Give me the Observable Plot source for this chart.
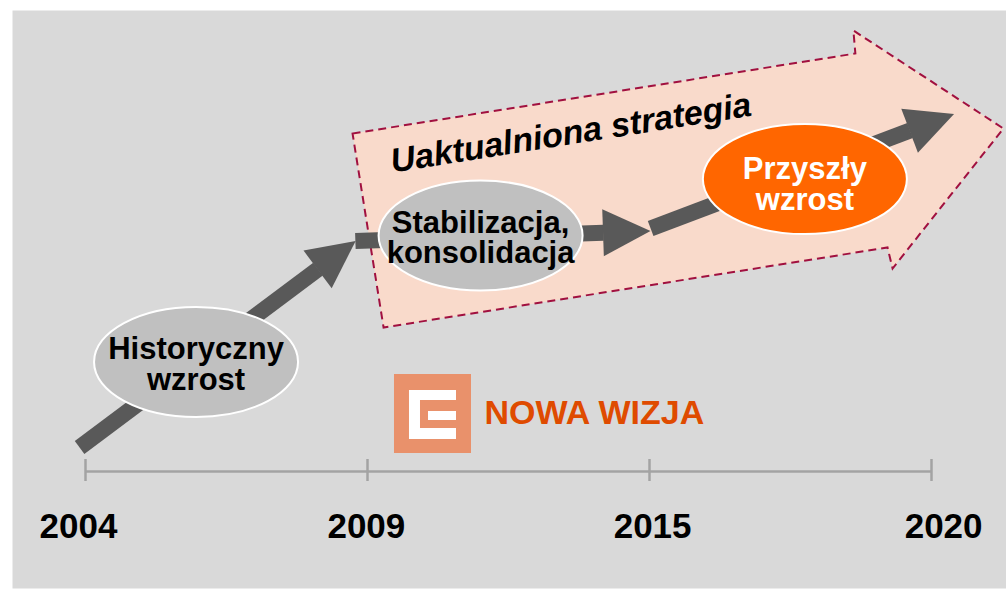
<!DOCTYPE html>
<html>
<head>
<meta charset="utf-8">
<script src="https://cdn.jsdelivr.net/npm/d3@7"></script>
<script src="https://cdn.jsdelivr.net/npm/@observablehq/plot@0.6"></script>
<style>
  html, body { margin: 0; padding: 0; background: #ffffff; }
  svg { display: block; }
</style>
</head>
<body>
<script>
// ---- Data (x: timeline step index 0..3, y: growth units) ----
const years = ["2004", "2009", "2015", "2020"];
const milestones = [0, 1, 2, 3];
const yearLabelX = [-0.025, 0.996, 2.011, 3.043];

const stageLabels = ["Historyczny\nwzrost", "Stabilizacja,\nkonsolidacja", "Przyszły\nwzrost"];
const stageX = [0.392, 1.401, 2.551];
const stageY = [27.4, 59.0, 73.1];
const stageKind = ["past", "past", "future"];

// dark growth arrows: shaft start (x1,y1) -> head base (x2,y2)
const arrowX1 = [-0.021, 0.957, 2.004];
const arrowY1 = [6.0, 57.6, 60.75];
const arrowX2 = [0.8245, 1.837, 2.924];
const arrowY2 = [50.6, 59.7, 85.25];

// "Uaktualniona strategia" outlined block arrow
const strategyX = [0.947, 2.730, 2.723, 3.255, 2.862, 2.844, 1.057];
const strategyY = [84.5, 104.5, 110.25, 85.75, 50.75, 56.0, 36.0];
const strategyLabel = "Uaktualniona strategia";
const strategyLabelPos = {x: 1.089, y: 74.75};

// brand
const brandLabel = "NOWA WIZJA";
const brandPos = {x: 1.415, y: 12};
const logoBox = {x1: 1.0957, x2: 1.3688, y1: 4.5, y2: 24.25};
const logoPartsX1 = [1.1489, 1.1489, 1.1489, 1.2163];
const logoPartsX2 = [1.3156, 1.1879, 1.3156, 1.3156];
const logoPartsY1 = [17.75, 8.0, 8.0, 12.75];
const logoPartsY2 = [20.25, 20.25, 10.75, 15.0];

// ---- Build tables ----
const stages = stageLabels.map((label, i) => ({label, x: stageX[i], y: stageY[i], kind: stageKind[i]}));
const arrows = arrowX1.map((x1, i) => ({x1, y1: arrowY1[i], x2: arrowX2[i], y2: arrowY2[i]}));
const strategy = strategyX.map((x, i) => ({x, y: strategyY[i]}));
const ticks = milestones.map((m, i) => ({x: m, labelX: yearLabelX[i], year: years[i]}));
const logoParts = logoPartsX1.map((x1, i) => ({x1, x2: logoPartsX2[i], y1: logoPartsY1[i], y2: logoPartsY2[i]}));

// ellipse symbol
function ellipseSymbol(rx, ry) {
  const k = 0.5523;
  return {
    draw(ctx) {
      ctx.moveTo(rx, 0);
      ctx.bezierCurveTo(rx, k * ry, k * rx, ry, 0, ry);
      ctx.bezierCurveTo(-k * rx, ry, -rx, k * ry, -rx, 0);
      ctx.bezierCurveTo(-rx, -k * ry, -k * rx, -ry, 0, -ry);
      ctx.bezierCurveTo(k * rx, -ry, rx, -k * ry, rx, 0);
      ctx.closePath();
    }
  };
}
const ellipse = ellipseSymbol(102, 55);

// filled triangular arrowhead marker
function headMarker(color, context) {
  const doc = (context && context.document) || document;
  const ns = "http://www.w3.org/2000/svg";
  const m = doc.createElementNS(ns, "marker");
  m.setAttribute("viewBox", "-2 -30 60 60");
  m.setAttribute("markerWidth", "60");
  m.setAttribute("markerHeight", "60");
  m.setAttribute("markerUnits", "userSpaceOnUse");
  m.setAttribute("refX", "0");
  m.setAttribute("refY", "0");
  m.setAttribute("orient", "auto");
  m.setAttribute("overflow", "visible");
  const p = doc.createElementNS(ns, "path");
  p.setAttribute("d", "M-0.5,-23.5L47,0L-0.5,23.5Z");
  p.setAttribute("fill", color);
  p.setAttribute("stroke", "none");
  m.appendChild(p);
  return m;
}

const dark = "#595959";

const chart = Plot.plot({
  width: 1006,
  height: 589,
  marginTop: 10,
  marginLeft: 12,
  marginRight: 0,
  marginBottom: 1,
  x: {type: "linear", domain: [0, 3], range: [85, 931], axis: null},
  y: {type: "linear", domain: [0, 100], range: [471, 71], axis: null},
  style: {fontFamily: "'Liberation Sans', Arial, sans-serif", background: "#ffffff", overflow: "visible"},
  marks: [
    Plot.frame({fill: "#d9d9d9", stroke: "none"}),
    // strategy block arrow
    Plot.line(strategy, {
      x: "x", y: "y", curve: "linear-closed",
      fill: "#f9dacb", stroke: "#a1103f", strokeWidth: 2,
      strokeDasharray: "8,5", strokeLinejoin: "miter", strokeLinecap: "butt", strokeMiterlimit: 10
    }),
    // timeline
    Plot.ruleY([0], {x1: milestones[0], x2: milestones[milestones.length - 1], stroke: "#a3a3a3", strokeWidth: 2.5}),
    Plot.ruleX(ticks, {x: "x", y1: -2.5, y2: 3, stroke: "#a3a3a3", strokeWidth: 2.5}),
    Plot.text(ticks, {x: "labelX", y: -13.75, text: "year", fontSize: 35, fontWeight: "bold", fill: "#000000"}),
    // brand logo
    Plot.rect([logoBox], {x1: "x1", x2: "x2", y1: "y1", y2: "y2", fill: "#e9916b"}),
    Plot.rect(logoParts, {x1: "x1", x2: "x2", y1: "y1", y2: "y2", fill: "#ffffff"}),
    Plot.text([brandPos], {x: "x", y: "y", text: () => brandLabel, textAnchor: "start", lineAnchor: "bottom", fontSize: 34, fontWeight: "bold", fill: "#df4b00"}),
    // growth arrows
    Plot.link(arrows, {x1: "x1", y1: "y1", x2: "x2", y2: "y2", stroke: dark, strokeWidth: 16, strokeLinecap: "butt", markerEnd: headMarker}),
    // stage ellipses
    Plot.dot(stages.filter(d => d.kind === "past"), {x: "x", y: "y", r: 10, symbol: ellipse, fill: "#c0c0c0", stroke: "#ffffff", strokeWidth: 2}),
    Plot.dot(stages.filter(d => d.kind === "future"), {x: "x", y: "y", r: 10, symbol: ellipse, fill: "#ff6600", stroke: "#ffffff", strokeWidth: 2}),
    Plot.text(stages.filter(d => d.kind === "past"), {x: "x", y: "y", text: "label", dy: 3, fontSize: 31, fontWeight: "bold", fill: "#000000", lineHeight: 0.98}),
    Plot.text(stages.filter(d => d.kind === "future"), {x: "x", y: "y", text: "label", dy: 5, fontSize: 31, fontWeight: "bold", fill: "#ffffff", lineHeight: 1.0}),
    // strategy label
    Plot.text([strategyLabelPos], {x: "x", y: "y", text: () => strategyLabel, textAnchor: "start", lineAnchor: "bottom", rotate: -9, fontSize: 34, fontWeight: "bold", fontStyle: "italic", fill: "#000000"})
  ]
});
document.body.appendChild(chart);
</script>
</body>
</html>
